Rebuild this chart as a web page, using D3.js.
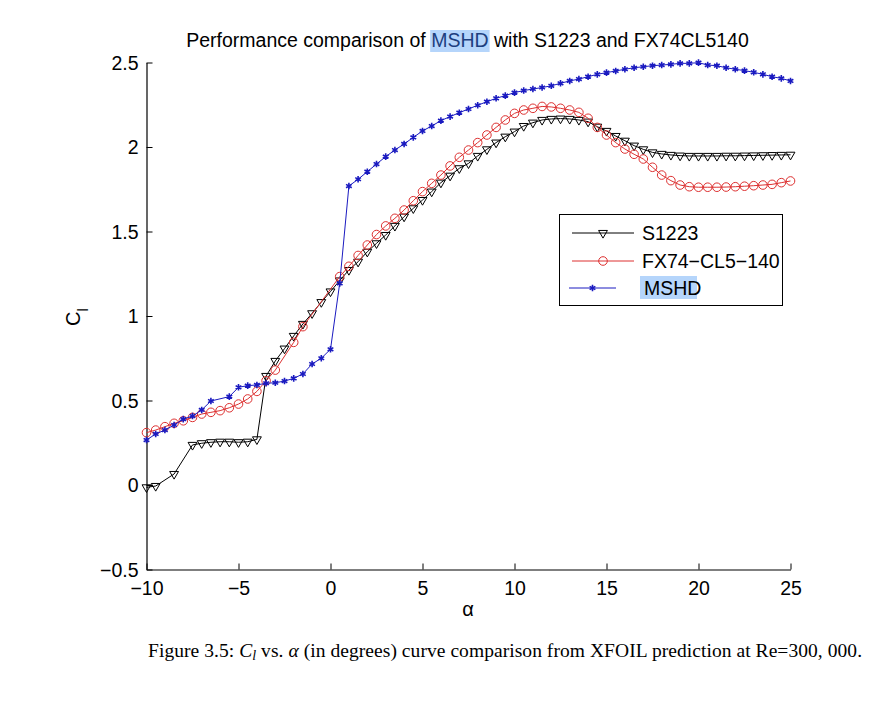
<!DOCTYPE html>
<html>
<head>
<meta charset="utf-8">
<script src="https://cdn.jsdelivr.net/npm/d3@7"></script>
<style>
  html, body { margin: 0; padding: 0; background: #ffffff; }
  svg { display: block; }
  text { font-family: "Liberation Sans", Arial, sans-serif; fill: #000; }
  text.serif { font-family: "Liberation Serif", "Times New Roman", serif; }
</style>
</head>
<body>
<svg id="chart" width="893" height="709"></svg>
<script>
// ---------------- data ----------------
const s1223Alpha = [-10, -9.5, -8.5, -7.5, -7, -6.5, -6, -5.5, -5, -4.5, -4, -3.5, -3, -2.5, -2, -1.5, -1, -0.5, 0,
  0.5, 1, 1.5, 2, 2.5, 3, 3.5, 4, 4.5, 5, 5.5, 6, 6.5, 7, 7.5, 8, 8.5, 9, 9.5, 10, 10.5, 11, 11.5, 12, 12.5,
  13, 13.5, 14, 14.5, 15, 15.5, 16, 16.5, 17, 17.5, 18, 18.5, 19, 19.5, 20, 20.5, 21, 21.5, 22, 22.5, 23, 23.5,
  24, 24.5, 25];
const s1223Cl = [-0.014, -0.006, 0.065, 0.237, 0.247, 0.253, 0.256, 0.256, 0.253, 0.256, 0.27, 0.645, 0.734, 0.807,
  0.882, 0.953, 1.016, 1.082, 1.145, 1.21, 1.272, 1.321, 1.38, 1.43, 1.479, 1.533, 1.588, 1.637, 1.686, 1.736,
  1.789, 1.83, 1.874, 1.903, 1.947, 1.986, 2.026, 2.061, 2.091, 2.124, 2.144, 2.16, 2.166, 2.168, 2.166, 2.16,
  2.15, 2.12, 2.095, 2.065, 2.037, 2.008, 1.986, 1.968, 1.959, 1.953, 1.949, 1.947, 1.947, 1.947, 1.947, 1.948,
  1.948, 1.949, 1.95, 1.951, 1.952, 1.953, 1.954];

const fx74Alpha = [-10, -9.5, -9, -8.5, -8, -7.5, -7, -6.5, -6, -5.5, -5, -4.5, -4, -3.5, -3, -2, -1.5,
  0.5, 1, 1.5, 2, 2.5, 3, 3.5, 4, 4.5, 5, 5.5, 6, 6.5, 7, 7.5, 8, 8.5, 9, 9.5, 10, 10.5, 11, 11.5, 12, 12.5,
  13, 13.5, 14, 14.5, 15, 15.5, 16, 16.5, 17, 17.5, 18, 18.5, 19, 19.5, 20, 20.5, 21, 21.5, 22, 22.5, 23, 23.5,
  24, 24.5, 25];
const fx74Cl = [0.31, 0.325, 0.345, 0.365, 0.38, 0.40, 0.42, 0.43, 0.44, 0.457, 0.479, 0.509, 0.554, 0.617, 0.68,
  0.844, 0.937, 1.233, 1.294, 1.358, 1.42, 1.482, 1.533, 1.578, 1.627, 1.682, 1.736, 1.785, 1.834, 1.888, 1.939,
  1.982, 2.026, 2.071, 2.116, 2.16, 2.199, 2.219, 2.229, 2.24, 2.237, 2.229, 2.219, 2.205, 2.17, 2.116, 2.071,
  2.026, 1.988, 1.957, 1.929, 1.88, 1.834, 1.801, 1.775, 1.765, 1.762, 1.762, 1.762, 1.763, 1.765, 1.768, 1.771,
  1.775, 1.779, 1.789, 1.799];

const mshdAlpha = [-10, -9.5, -9, -8.5, -8, -7.5, -7, -6.5, -5.5, -5, -4.5, -4, -3.5, -3, -2.5, -2, -1.5, -1, -0.5, 0,
  0.5, 1, 1.5, 2, 2.5, 3, 3.5, 4, 4.5, 5, 5.5, 6, 6.5, 7, 7.5, 8, 8.5, 9, 9.5, 10, 10.5, 11, 11.5, 12, 12.5,
  13, 13.5, 14, 14.5, 15, 15.5, 16, 16.5, 17, 17.5, 18, 18.5, 19, 19.5, 20, 20.5, 21, 21.5, 22, 22.5, 23, 23.5,
  24, 24.5, 25];
const mshdCl = [0.266, 0.302, 0.325, 0.355, 0.39, 0.408, 0.444, 0.497, 0.523, 0.578, 0.588, 0.592, 0.602, 0.605,
  0.615, 0.631, 0.657, 0.716, 0.75, 0.803, 1.193, 1.769, 1.809, 1.854, 1.899, 1.943, 1.982, 2.018, 2.057, 2.095,
  2.124, 2.156, 2.18, 2.203, 2.225, 2.247, 2.268, 2.288, 2.304, 2.322, 2.334, 2.343, 2.352, 2.362, 2.377, 2.391,
  2.402, 2.416, 2.43, 2.44, 2.45, 2.46, 2.469, 2.475, 2.481, 2.485, 2.489, 2.495, 2.495, 2.499, 2.485, 2.481,
  2.469, 2.46, 2.452, 2.442, 2.43, 2.416, 2.406, 2.391];

const seriesNames = ["S1223", "FX74\u2212CL5\u2212140", "MSHD"];
const xTickValues = [-10, -5, 0, 5, 10, 15, 20, 25];
const xTickLabels = ["\u221210", "\u22125", "0", "5", "10", "15", "20", "25"];
const yTickValues = [-0.5, 0, 0.5, 1, 1.5, 2, 2.5];
const yTickLabels = ["\u22120.5", "0", "0.5", "1", "1.5", "2", "2.5"];

// ---------------- layout ----------------
const svg = d3.select("#chart");
const X0 = 146.5, X1 = 790.5, Y0 = 569.5, Y1 = 62.5;
const x = d3.scaleLinear().domain([-10, 25]).range([X0, X1]);
const y = d3.scaleLinear().domain([-0.5, 2.5]).range([Y0, Y1]);

const BLACK = "#000000", RED = "#dd3030", BLUE = "#1a1ac0";
const HL = "#b5d5fb", HLTXT = "#1d3f80";

// axes
const xAxis = d3.axisBottom(x).tickValues(xTickValues)
  .tickFormat((d, i) => xTickLabels[i]).tickSizeInner(-6).tickSizeOuter(0).tickPadding(12);
const yAxis = d3.axisLeft(y).tickValues(yTickValues)
  .tickFormat((d, i) => yTickLabels[i]).tickSizeInner(-6).tickSizeOuter(0).tickPadding(8);

const gx = svg.append("g").attr("transform", `translate(0,${Y0})`).call(xAxis);
const gy = svg.append("g").attr("transform", `translate(${X0},0)`).call(yAxis);
[gx, gy].forEach(g => {
  g.select(".domain").attr("stroke", "#000").attr("stroke-width", 1.2);
  g.selectAll(".tick line").attr("stroke", "#000").attr("stroke-width", 1);
  g.selectAll(".tick text").attr("font-size", 19.5).attr("fill", "#000");
});
gx.selectAll(".tick text").attr("dy", "0.71em");
gy.selectAll(".tick text").attr("dy", "0.34em");

// series
const mk = (al, cl) => al.map((a, i) => ({ a: a, c: cl[i] }));
const series = [
  { name: seriesNames[0], data: mk(s1223Alpha, s1223Cl), color: BLACK, marker: "tri" },
  { name: seriesNames[1], data: mk(fx74Alpha, fx74Cl), color: RED, marker: "circ" },
  { name: seriesNames[2], data: mk(mshdAlpha, mshdCl), color: BLUE, marker: "star" }
];

const line = d3.line().x(d => x(d.a)).y(d => y(d.c));
const triPath = d3.symbol().type(d3.symbolTriangle).size(34)();
const starPath = d3.symbol().type(d3.symbolAsterisk).size(30)();

function drawMarker(g, type, color, cx, cy) {
  if (type === "tri") {
    g.append("path").attr("d", triPath)
      .attr("transform", `translate(${cx},${cy}) rotate(180)`)
      .attr("fill", "none").attr("stroke", color).attr("stroke-width", 1);
  } else if (type === "circ") {
    g.append("circle").attr("cx", cx).attr("cy", cy).attr("r", 4.3)
      .attr("fill", "none").attr("stroke", color).attr("stroke-width", 1);
  } else {
    g.append("path").attr("d", starPath)
      .attr("transform", `translate(${cx},${cy})`)
      .attr("fill", "none").attr("stroke", color).attr("stroke-width", 1.6);
  }
}

series.forEach(s => {
  const g = svg.append("g");
  g.append("path").datum(s.data).attr("d", line)
    .attr("fill", "none").attr("stroke", s.color).attr("stroke-width", 1);
  s.data.forEach(d => drawMarker(g, s.marker, s.color, x(d.a), y(d.c)));
});

// title
const title = svg.append("text").attr("x", 467.5).attr("y", 47)
  .attr("text-anchor", "middle").attr("font-size", 19.5);
title.append("tspan").text("Performance comparison of ");
title.append("tspan").attr("fill", HLTXT).text("MSHD");
title.append("tspan").text(" with S1223 and FX74CL5140");
{
  const node = title.node();
  const start = node.getStartPositionOfChar(26).x;
  const w = node.getSubStringLength(26, 4);
  svg.insert("rect", () => node).attr("x", start - 1).attr("y", 30)
    .attr("width", w + 2).attr("height", 22).attr("fill", HL);
}

// x label
svg.append("text").attr("x", 468).attr("y", 616).attr("text-anchor", "middle")
  .attr("font-size", 20).text("\u03b1");

// y label  C_l rotated
const yl = svg.append("text").attr("transform", "translate(80,326) rotate(-90)")
  .attr("font-size", 20);
yl.append("tspan").text("C");
yl.append("tspan").attr("font-size", 15).attr("dy", 8).text("l");

// legend
const lg = svg.append("g");
lg.append("rect").attr("x", 559.5).attr("y", 214.5).attr("width", 223).attr("height", 91)
  .attr("fill", "#fff").attr("stroke", "#000").attr("stroke-width", 1);
const rowsY = [233, 261, 288];
series.forEach((s, i) => {
  const yy = rowsY[i];
  const lx0 = i === 2 ? 569 : 572, lx1 = i === 2 ? 616 : 634;
  lg.append("line").attr("x1", lx0).attr("x2", lx1).attr("y1", yy).attr("y2", yy)
    .attr("stroke", s.color).attr("stroke-width", 1);
  drawMarker(lg, s.marker, s.color, (lx0 + lx1) / 2, yy);
  const tx = i === 2 ? 644 : 642;
  if (i === 2) {
    lg.append("rect").attr("x", tx - 4).attr("y", yy - 12).attr("width", 57).attr("height", 23)
      .attr("fill", HL);
  }
  lg.append("text").attr("x", tx).attr("y", yy + 7).attr("font-size", 19.5)
    .attr("fill", i === 2 ? HLTXT : "#000").text(s.name);
});

// caption
const cap = svg.append("text").attr("class", "serif").attr("x", 148).attr("y", 657)
  .attr("font-size", 19.5);
cap.append("tspan").text("Figure 3.5: ");
cap.append("tspan").attr("font-style", "italic").text("C");
cap.append("tspan").attr("font-style", "italic").attr("font-size", 14).attr("dy", 3).text("l");
cap.append("tspan").attr("dy", -3).text(" vs. ");
cap.append("tspan").attr("font-style", "italic").text("\u03b1");
cap.append("tspan").text(" (in degrees) curve comparison from XFOIL prediction at Re=300, 000.");
cap.attr("textLength", 714).attr("lengthAdjust", "spacing");
</script>
</body>
</html>
